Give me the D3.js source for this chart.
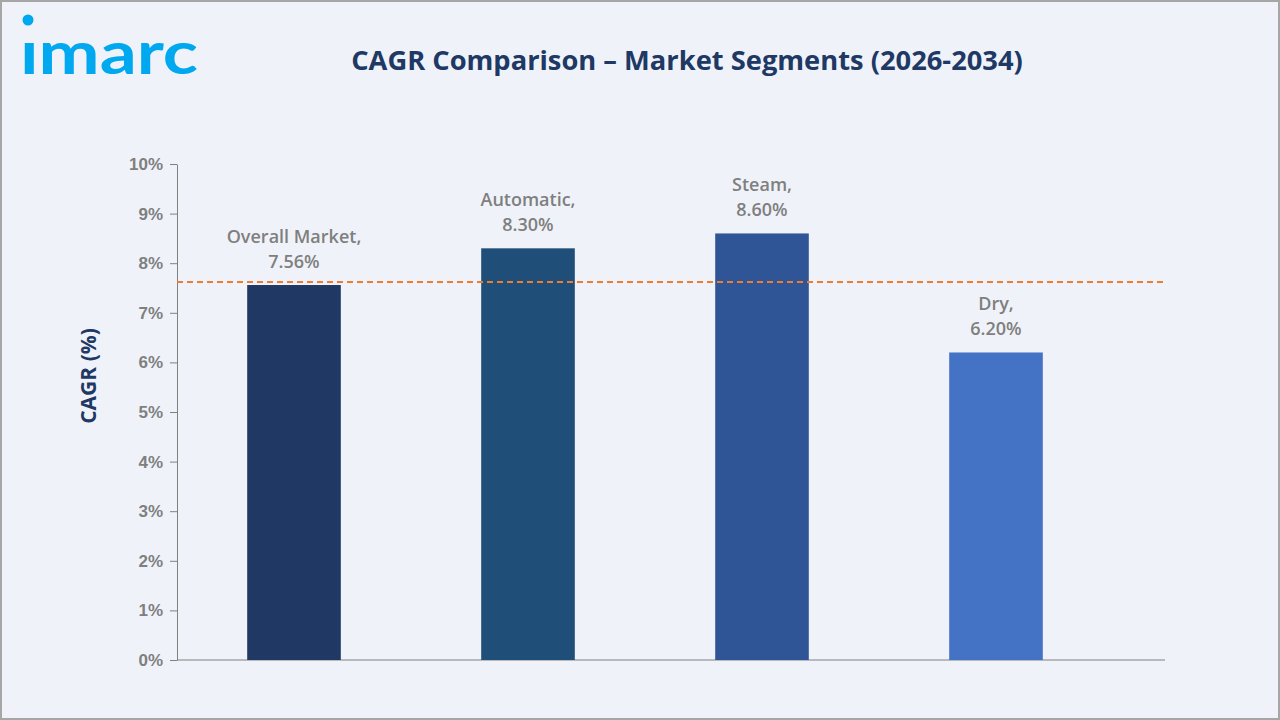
<!DOCTYPE html>
<html><head><meta charset="utf-8">
<script src="https://cdn.jsdelivr.net/npm/d3@7"></script>
<style>body{margin:0}svg{display:block;font-family:"Open Sans",sans-serif}</style>
</head><body><svg id="chart" width="1280" height="720"></svg>
<script>
const categories = ["Overall Market", "Automatic", "Steam", "Dry"];
const values = [7.56, 8.30, 8.60, 6.20];
const colors = ["#203864", "#1f4e79", "#2f5597", "#4472c4"];
const referenceValue = 7.62;
const yTicks = [0,1,2,3,4,5,6,7,8,9,10];

const svg = d3.select("#chart");
svg.append("rect").attr("x",1).attr("y",1).attr("width",1278).attr("height",718)
  .attr("fill","#eff3f9").attr("stroke","#a6a6a6").attr("stroke-width",2);

// logo
const logo = svg.append("g");
logo.append("circle").attr("cx",28).attr("cy",20).attr("r",5.5).attr("fill","#00a8f0");
logo.append("text").attr("x",20).attr("y",74).attr("font-size",60).attr("font-weight",700)
  .attr("fill","#00a8f0").attr("font-family","Lato, sans-serif")
  .attr("textLength",178).attr("lengthAdjust","spacingAndGlyphs").text("ımarc");

svg.append("text").attr("x",687).attr("y",70).attr("text-anchor","middle")
  .attr("font-size",27.3).attr("font-weight",700).attr("fill","#203864")
  .text("CAGR Comparison – Market Segments (2026-2034)");

const y = d3.scaleLinear().domain([0,10]).range([660,164]);
const x = d3.scaleBand().domain(categories).range([177,1113]).paddingInner(0.6).paddingOuter(0.3);

const yAxis = svg.append("g").attr("transform","translate(177,0)")
  .call(d3.axisLeft(y).tickValues(yTicks).tickFormat(d=>d+"%").tickSize(7).tickSizeOuter(0));
yAxis.select(".domain").attr("stroke","#808080");
yAxis.selectAll(".tick line").attr("stroke","#808080");
yAxis.selectAll("text").attr("fill","#7f7f7f").attr("font-size",17).attr("font-weight",600).attr("dx",-4);

svg.append("line").attr("x1",177).attr("x2",1165).attr("y1",y(0)).attr("y2",y(0))
  .attr("stroke","#808080").attr("stroke-width",1.2);

svg.append("text").attr("transform","translate(96,376) rotate(-90)").attr("text-anchor","middle")
  .attr("font-size",21).attr("font-weight",700).attr("fill","#203864").text("CAGR (%)");

svg.selectAll(".bar").data(categories).enter().append("rect")
  .attr("x",d=>x(d)).attr("width",x.bandwidth())
  .attr("y",(d,i)=>y(values[i])).attr("height",(d,i)=>y(0)-y(values[i]))
  .attr("fill",(d,i)=>colors[i]);

svg.append("line").attr("x1",177).attr("x2",1165).attr("y1",y(referenceValue)).attr("y2",y(referenceValue))
  .attr("stroke","#ed7d31").attr("stroke-width",2).attr("stroke-dasharray","6,4");

const lbl = svg.selectAll(".lbl").data(categories).enter().append("text")
  .attr("text-anchor","middle").attr("font-size",18).attr("font-weight",600).attr("fill","#7f7f7f");
lbl.append("tspan").attr("x",d=>x(d)+x.bandwidth()/2).attr("y",(d,i)=>y(values[i])-42).text(d=>d+",");
lbl.append("tspan").attr("x",d=>x(d)+x.bandwidth()/2).attr("y",(d,i)=>y(values[i])-17).text((d,i)=>values[i].toFixed(2)+"%");
</script></body></html>
